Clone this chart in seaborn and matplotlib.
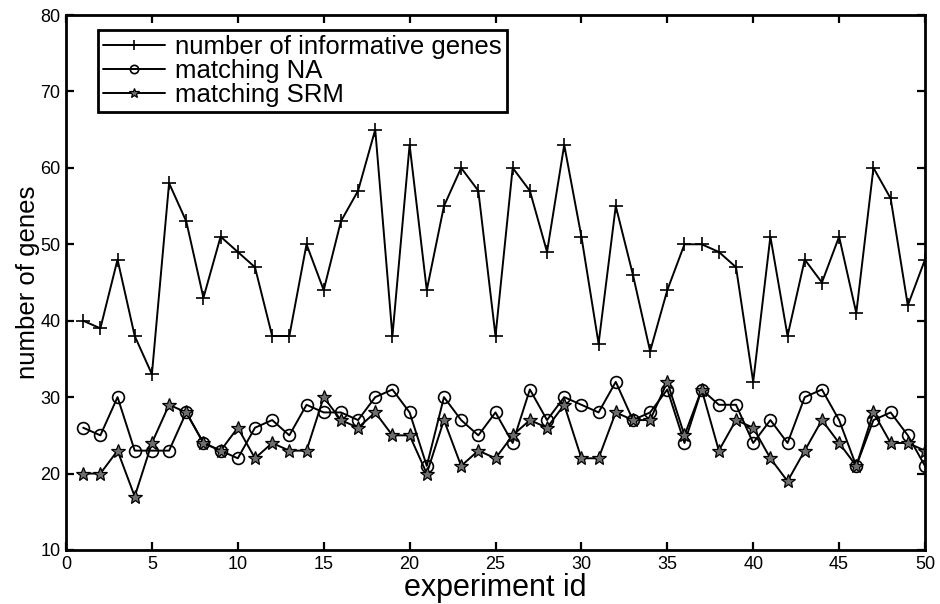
import numpy as np
import pandas as pd
import matplotlib
matplotlib.use("Agg")
import matplotlib.pyplot as plt
import seaborn as sns

experiment_id = list(range(1, 51))
informative = [40, 39, 48, 38, 33, 58, 53, 43, 51, 49, 47, 38, 38, 50, 44, 53, 57, 65, 38, 63,
               44, 55, 60, 57, 38, 60, 57, 49, 63, 51, 37, 55, 46, 36, 44, 50, 50, 49, 47, 32,
               51, 38, 48, 45, 51, 41, 60, 56, 42, 48]
matching_na = [26, 25, 30, 23, 23, 23, 28, 24, 23, 22, 26, 27, 25, 29, 28, 28, 27, 30, 31, 28,
               21, 30, 27, 25, 28, 24, 31, 27, 30, 29, 28, 32, 27, 28, 31, 24, 31, 29, 29, 24,
               27, 24, 30, 31, 27, 21, 27, 28, 25, 21]
matching_srm = [20, 20, 23, 17, 24, 29, 28, 24, 23, 26, 22, 24, 23, 23, 30, 27, 26, 28, 25, 25,
                20, 27, 21, 23, 22, 25, 27, 26, 29, 22, 22, 28, 27, 27, 32, 25, 31, 23, 27, 26,
                22, 19, 23, 27, 24, 21, 28, 24, 24, 23]
labels = ["number of informative genes", "matching NA", "matching SRM"]

sns.set_style("ticks")
plt.rcParams['font.family'] = ['Liberation Sans', 'DejaVu Sans']
plt.rcParams['text.color'] = 'black'
plt.rcParams['axes.labelcolor'] = 'black'
plt.rcParams['xtick.color'] = 'black'
plt.rcParams['ytick.color'] = 'black'

fig = plt.figure(figsize=(9.4, 6.04), dpi=100)
ax = fig.add_axes([66/940, 1-550/604, (925-66)/940, (550-15)/604])

df = pd.DataFrame({"id": experiment_id, "inf": informative, "na": matching_na, "srm": matching_srm})

sns.lineplot(data=df, x="id", y="inf", ax=ax, color="black", lw=1.4, marker="+",
             markersize=10, markeredgewidth=1.2, markeredgecolor="black", label=labels[0])
sns.lineplot(data=df, x="id", y="na", ax=ax, color="black", lw=1.4, marker="o",
             markersize=8.5, markerfacecolor="none", markeredgecolor="black",
             markeredgewidth=1.2, label=labels[1])
sns.lineplot(data=df, x="id", y="srm", ax=ax, color="black", lw=1.4, marker="*",
             markersize=10.5, markerfacecolor="#6e6e6e", markeredgecolor="black",
             markeredgewidth=0.9, label=labels[2])

ax.set_xlim(0, 50)
ax.set_ylim(10, 80)
ax.set_xticks(range(0, 51, 5))
ax.set_yticks(range(10, 81, 10))
ax.tick_params(direction="in", length=6, width=1.6, top=True, right=True,
               labelsize=13, pad=4, colors="black", labelcolor="black")
for s in ax.spines.values():
    s.set_linewidth(2)
    s.set_color("black")
    s.set_visible(True)

ax.set_xlabel("experiment id", fontsize=22, labelpad=0, color="black")
ax.set_ylabel("number of genes", fontsize=18.5, labelpad=0, color="black")

leg = ax.legend(loc="upper left", bbox_to_anchor=(32/859, 1-15/535), fontsize=18.5,
                frameon=True, fancybox=False, handlelength=2.4, handletextpad=0.4,
                borderpad=0.2, labelspacing=0.0, borderaxespad=0, markerscale=0.7)
leg.get_frame().set_edgecolor("black")
leg.get_frame().set_linewidth(2)
leg.get_frame().set_alpha(1)
for t in leg.get_texts():
    t.set_color("black")

fig.savefig("out.png", dpi=100)
